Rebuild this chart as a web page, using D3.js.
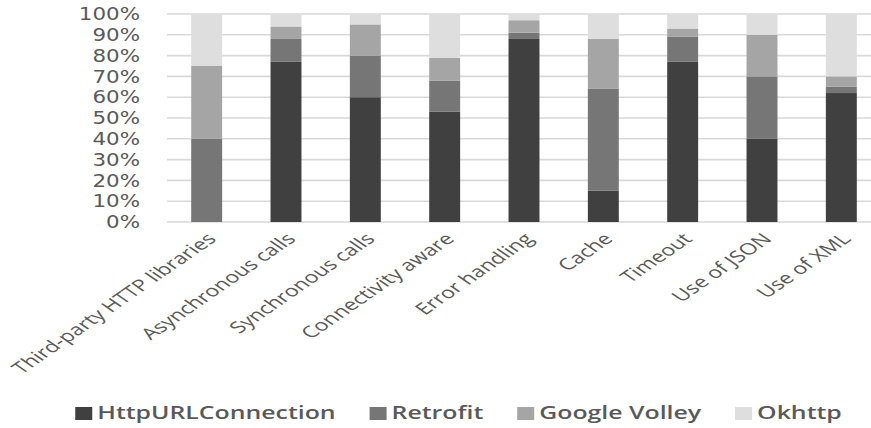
<!DOCTYPE html>
<html>
<head>
<meta charset="utf-8">
<script src="https://cdn.jsdelivr.net/npm/d3@7"></script>
<style>
  body { margin: 0; background: #fff; }
  text { font-family: "Open Sans", sans-serif; fill: #595959; }
</style>
</head>
<body>
<script>
// categories along the x axis
const categories = ["Third-party HTTP libraries", "Asynchronous calls", "Synchronous calls",
    "Connectivity aware", "Error handling", "Cache", "Timeout", "Use of JSON", "Use of XML"];

// percentages
const httpURLConnection = [0, 77, 60, 53, 88, 15, 77, 40, 62];
const retrofit          = [40, 11, 20, 15, 3, 49, 12, 30, 3];
const googleVolley      = [35, 6, 15, 11, 6, 24, 4, 20, 5];
const okhttp            = [25, 6, 5, 21, 3, 12, 7, 10, 30];

const seriesNames = ["HttpURLConnection", "Retrofit", "Google Volley", "Okhttp"];
const yTicks = [0, 10, 20, 30, 40, 50, 60, 70, 80, 90, 100];

const colors = ["#404040", "#767676", "#a5a5a5", "#dedede"];

const width = 871;
const height = 428;
const SX = 1.38; // the picture is stretched sideways, text too

const svg = d3.select("body").append("svg")
    .attr("width", width)
    .attr("height", height);

// build rows for the stack
const rows = categories.map(function (c, i) {
    return {
        cat: c,
        "HttpURLConnection": httpURLConnection[i],
        "Retrofit": retrofit[i],
        "Google Volley": googleVolley[i],
        "Okhttp": okhttp[i]
    };
});
const stacked = d3.stack().keys(seriesNames)(rows);

const x = d3.scaleBand()
    .domain(categories)
    .range([167, 881])
    .paddingInner(0.61)
    .paddingOuter(0.305);

const y = d3.scaleLinear()
    .domain([0, 100])
    .range([222, 14]);

// gridlines
svg.append("g")
    .selectAll("line")
    .data(yTicks)
    .enter().append("line")
    .attr("x1", 167)
    .attr("x2", width)
    .attr("y1", d => y(d))
    .attr("y2", d => y(d))
    .attr("stroke", "#d9d9d9")
    .attr("stroke-width", 1.6);

// y labels (DejaVu keeps the line box under the 10% step)
svg.append("g")
    .selectAll("text")
    .data(yTicks)
    .enter().append("text")
    .attr("transform", d => "translate(140," + y(d) + ") scale(1.26,1)")
    .attr("text-anchor", "end")
    .attr("dy", "0.36em")
    .style("font-family", "'DejaVu Sans', sans-serif")
    .style("font-size", "17px")
    .text(d => d + "%");

// bars
svg.append("g")
    .selectAll("g")
    .data(stacked)
    .enter().append("g")
    .attr("fill", (d, i) => colors[i])
    .selectAll("rect")
    .data(d => d)
    .enter().append("rect")
    .attr("x", d => x(d.data.cat))
    .attr("width", x.bandwidth())
    .attr("y", d => y(d[1]))
    .attr("height", d => y(d[0]) - y(d[1]));

// x labels, rotated
svg.append("g")
    .selectAll("text")
    .data(categories)
    .enter().append("text")
    .attr("transform", d => "translate(" + (x(d) + x.bandwidth() / 2 + 5) + ",236) scale(1.45,1) rotate(-45)")
    .attr("text-anchor", "end")
    .attr("dy", "0.35em")
    .style("font-size", "16px")
    .text(d => d);

// legend
const legend = svg.append("g");
const items = legend.selectAll("g")
    .data(seriesNames)
    .enter().append("g");

items.append("rect")
    .attr("width", 17)
    .attr("height", 13)
    .attr("y", -6)
    .attr("fill", (d, i) => colors[i]);

items.append("text")
    .attr("transform", "translate(22,0) scale(" + SX + ",1)")
    .attr("dy", "0.36em")
    .style("font-size", "18px")
    .style("font-weight", 600)
    .text(d => d);

const gap = 34;
let pos = 0;
items.each(function (d) {
    const w = 22 + this.querySelector("text").getComputedTextLength() * SX;
    d3.select(this).attr("transform", "translate(" + pos + ",0)");
    pos += w + gap;
});
const total = pos - gap;
legend.attr("transform", "translate(" + (458.5 - total / 2) + ",413)");
</script>
</body>
</html>
